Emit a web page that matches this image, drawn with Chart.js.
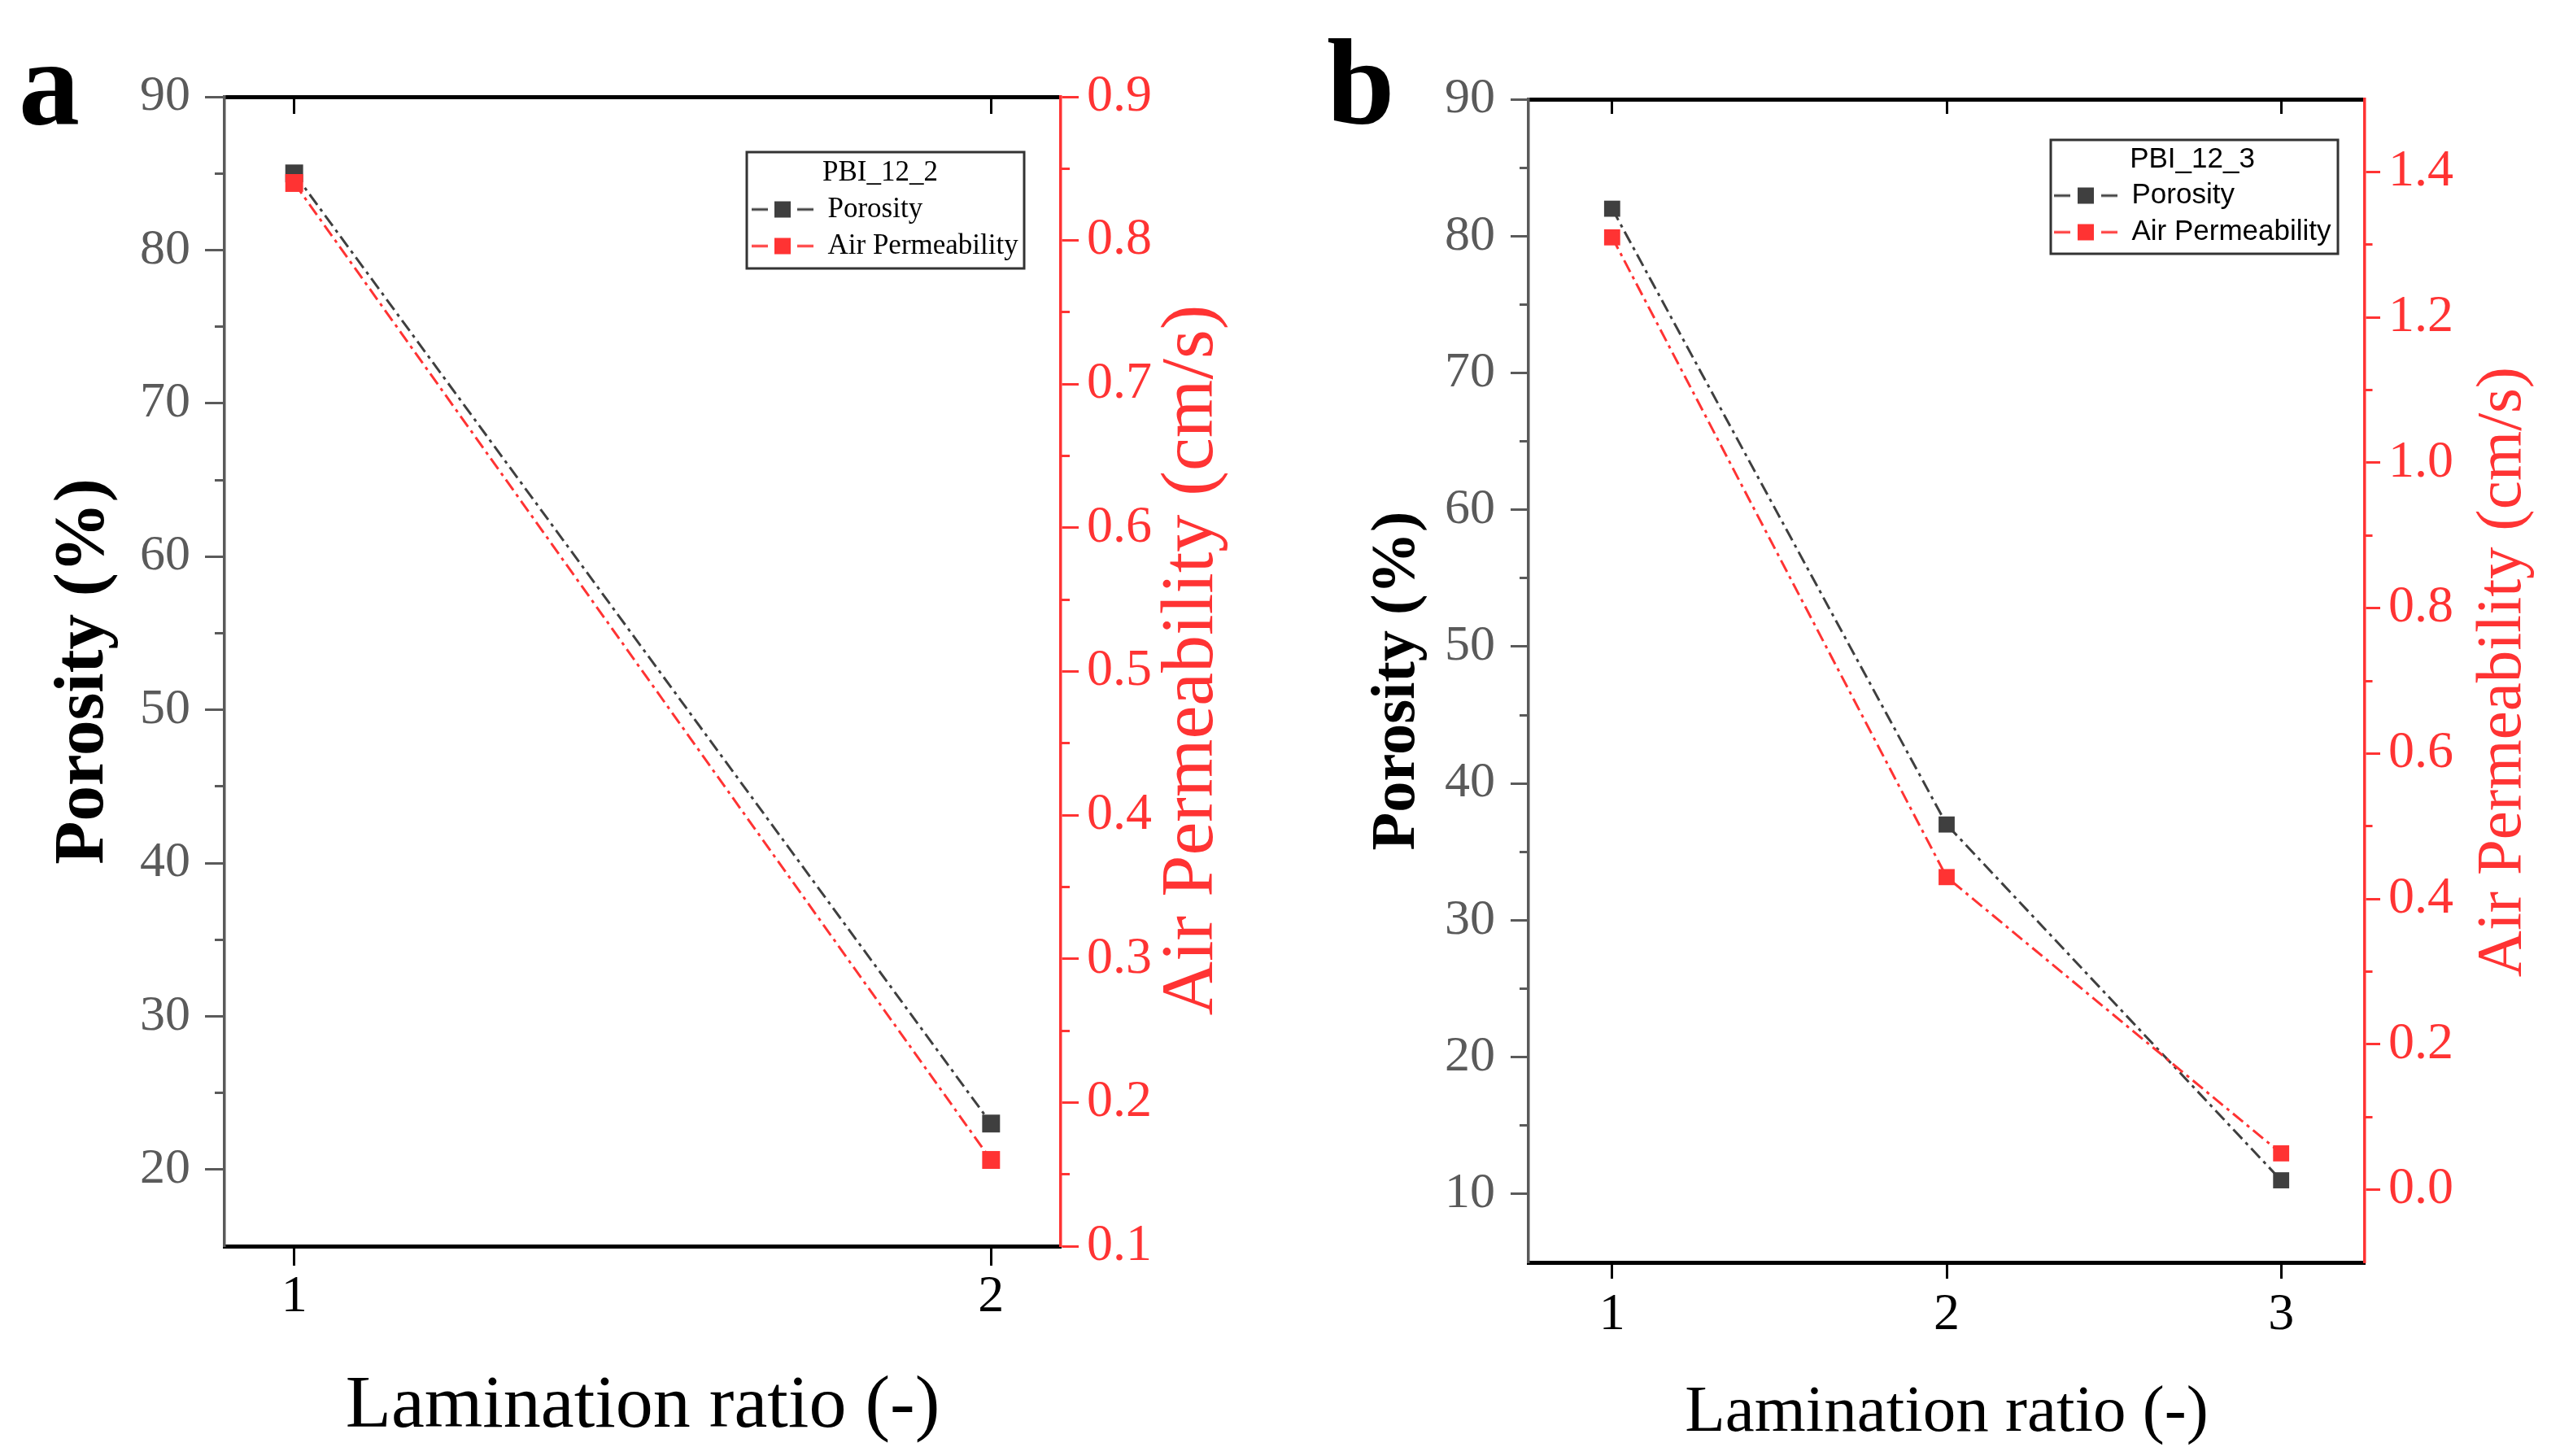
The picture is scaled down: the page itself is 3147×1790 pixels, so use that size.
<!DOCTYPE html>
<html>
<head>
<meta charset="utf-8">
<title>Porosity and air permeability vs lamination ratio</title>
<script src="https://cdn.jsdelivr.net/npm/chart.js@4.4.1/dist/chart.umd.min.js"></script>
<style>
  html, body { margin: 0; padding: 0; background: #fff; }
  #page { position: relative; width: 3147px; height: 1790px; overflow: hidden; background: #fff; }
  canvas { position: absolute; top: 0; }
  #chartA { left: 0; }
  #chartB { left: 1600px; }
  .tag { position: absolute; font-family: 'Liberation Serif', 'Times New Roman', serif; font-weight: bold;
         font-size: 150px; line-height: 1; color: #000; }
</style>
</head>
<body>
<div id="page">
  <canvas id="chartA" width="1600" height="1790"></canvas>
  <canvas id="chartB" width="1547" height="1790"></canvas>
  <div class="tag" style="left:23px; top:26px;">a</div>
  <div class="tag" style="left:1631px; top:26px;">b</div>
</div>
<script>
// panel a: PBI_12_2
const aRatio = [1, 2];
const aPorosity = [85, 23];
const aAirPerm = [0.84, 0.16];
const aRatioTicks = [1, 2];
const aPorosityTicks = [20, 30, 40, 50, 60, 70, 80, 90];
const aPorosityMinor = [25, 35, 45, 55, 65, 75, 85];
const aAirTicks = [0.1, 0.2, 0.3, 0.4, 0.5, 0.6, 0.7, 0.8, 0.9];
const aAirMinor = [0.15, 0.25, 0.35, 0.45, 0.55, 0.65, 0.75, 0.85];

// panel b: PBI_12_3
const bRatio = [1, 2, 3];
const bPorosity = [82, 37, 11];
const bAirPerm = [1.31, 0.43, 0.05];
const bRatioTicks = [1, 2, 3];
const bPorosityTicks = [10, 20, 30, 40, 50, 60, 70, 80, 90];
const bPorosityMinor = [15, 25, 35, 45, 55, 65, 75, 85];
const bAirTicks = [0.0, 0.2, 0.4, 0.6, 0.8, 1.0, 1.2, 1.4];
const bAirMinor = [0.1, 0.3, 0.5, 0.7, 0.9, 1.1, 1.3];

const SERIF = "'Liberation Serif', 'Times New Roman', serif";
const SANS = "'Liberation Sans', Arial, sans-serif";
const GRAY = '#3f3f3f';
const AXIS_GRAY = '#5a5a5a';
const RED = '#ff3333';

function fixedTicks(values) {
  return scale => { scale.ticks = values.map(v => ({ value: v })); };
}

function points(xs, ys) {
  return xs.map((x, i) => ({ x: x, y: ys[i] }));
}

// "-■-" sample used as the legend point style
function legendSymbol(color, w) {
  const c = document.createElement('canvas');
  c.width = w;
  c.height = 22;
  const g = c.getContext('2d');
  g.fillStyle = color;
  const dash = Math.round(w * 0.26);
  g.fillRect(0, 9.5, dash, 3);
  g.fillRect(w - dash, 9.5, dash, 3);
  g.fillRect(Math.round(w / 2 - 10), 1, 20, 20);
  return c;
}

// moves the legend into the plot, frames it, and draws the red axis title reading upwards
const panelExtras = {
  id: 'panelExtras',
  beforeDraw(chart, args, opts) {
    const lg = chart.legend;
    const p = opts.legendPos;
    lg.left = p.left;
    lg.top = p.top;
    lg.width = p.width;
    lg.right = p.left + p.width + 80;
    lg.bottom = p.top + 220;
    lg.height = lg.bottom - lg.top;
  },
  afterDraw(chart, args, opts) {
    const ctx = chart.ctx;
    const ca = chart.chartArea;
    const box = opts.frame;
    const t = opts.sideTitle;
    ctx.save();
    ctx.strokeStyle = box.color;
    ctx.lineWidth = box.lineWidth;
    ctx.strokeRect(box.left, box.top, box.width, box.height);
    ctx.translate(ca.right + t.dx, (ca.top + ca.bottom) / 2 + t.dy);
    ctx.rotate(-Math.PI / 2);
    ctx.font = t.size + 'px ' + SERIF;
    ctx.fillStyle = t.color;
    ctx.textAlign = 'center';
    ctx.textBaseline = 'middle';
    ctx.fillText(t.text, 0, 0);
    ctx.restore();
  }
};

function buildPanel(canvasId, p) {
  const datasets = [
    {
      label: 'Porosity',
      data: points(p.ratio, p.porosity),
      yAxisID: 'y',
      order: 1,
      borderColor: GRAY,
      backgroundColor: GRAY,
      borderWidth: 3,
      borderDash: [16, 6, 4, 6],
      tension: 0,
      pointStyle: 'rect',
      pointRadius: p.markerRadius,
      pointHoverRadius: p.markerRadius,
      pointBorderWidth: 0,
      pointBackgroundColor: GRAY
    },
    {
      label: 'Air Permeability',
      data: points(p.ratio, p.airPerm),
      yAxisID: 'y2',
      order: 0,
      borderColor: RED,
      backgroundColor: RED,
      borderWidth: 3,
      borderDash: [16, 6, 4, 6],
      tension: 0,
      pointStyle: 'rect',
      pointRadius: p.markerRadius,
      pointHoverRadius: p.markerRadius,
      pointBorderWidth: 0,
      pointBackgroundColor: RED
    }
  ];

  return new Chart(document.getElementById(canvasId), {
    type: 'line',
    data: { datasets: datasets },
    options: {
      responsive: false,
      animation: false,
      devicePixelRatio: 1,
      layout: { padding: p.padding },
      plugins: {
        tooltip: { enabled: false },
        legend: {
          display: true,
          position: 'chartArea',
          fullSize: false,
          align: 'start',
          labels: {
            usePointStyle: true,
            pointStyleWidth: p.symbolWidth,
            padding: p.legendRowPad,
            color: '#000',
            font: { family: p.legendFont, size: p.legendSize, lineHeight: 1 },
            generateLabels: chart => chart.data.datasets.map((ds, i) => ({
              text: ds.label,
              pointStyle: legendSymbol(ds.borderColor, p.symbolWidth),
              fillStyle: ds.backgroundColor,
              strokeStyle: ds.borderColor,
              fontColor: '#000',
              lineWidth: 0,
              hidden: false,
              datasetIndex: i
            }))
          },
          title: {
            display: true,
            text: p.legendTitle,
            color: '#000',
            font: { family: p.legendFont, size: p.legendSize, lineHeight: 1 },
            padding: p.legendTitlePad
          }
        },
        panelExtras: {
          legendPos: p.legendPos,
          frame: p.frame,
          sideTitle: p.sideTitle
        }
      },
      scales: {
        x: {
          type: 'linear',
          position: 'bottom',
          min: p.xMin,
          max: p.xMax,
          afterBuildTicks: fixedTicks(p.ratioTicks),
          afterFit: s => { s.height = p.xHeight; },
          ticks: {
            autoSkip: false,
            color: '#000',
            padding: p.xTickPad,
            font: { family: SERIF, size: 64, lineHeight: 1 },
            callback: v => String(v)
          },
          grid: { drawOnChartArea: false, tickLength: p.xTickLen, tickColor: '#000', tickWidth: 3 },
          border: { display: true, color: '#000', width: 5 },
          title: {
            display: true,
            text: 'Lamination ratio (-)',
            color: '#000',
            font: { family: SERIF, size: p.xTitleSize, lineHeight: 1 },
            padding: { top: 0, bottom: p.xTitlePad }
          }
        },
        xTop: {
          type: 'linear',
          position: 'top',
          min: p.xMin,
          max: p.xMax,
          afterBuildTicks: fixedTicks(p.ratioTicks),
          afterFit: s => { s.height = 0; },
          ticks: { display: false },
          grid: { drawOnChartArea: false, tickLength: -p.topTickLen, tickColor: '#000', tickWidth: 3 },
          border: { display: true, color: '#000', width: 5 }
        },
        y: {
          type: 'linear',
          position: 'left',
          weight: 1,
          min: p.yMin,
          max: p.yMax,
          afterBuildTicks: fixedTicks(p.porosityTicks),
          afterFit: s => { s.width = p.yWidth; },
          ticks: {
            autoSkip: false,
            color: AXIS_GRAY,
            padding: p.yTickPad,
            font: { family: SERIF, size: 62, lineHeight: 1 },
            callback: v => String(v)
          },
          grid: { drawOnChartArea: false, tickLength: p.yTickLen, tickColor: AXIS_GRAY, tickWidth: 3 },
          border: { display: true, color: AXIS_GRAY, width: 3.5 },
          title: {
            display: true,
            text: 'Porosity (%)',
            color: '#000',
            font: { family: SERIF, size: p.yTitleSize, weight: 'bold', lineHeight: 1 },
            padding: { top: p.yTitlePad, bottom: 0 }
          }
        },
        yMinor: {
          type: 'linear',
          position: 'left',
          weight: 0,
          min: p.yMin,
          max: p.yMax,
          afterBuildTicks: fixedTicks(p.porosityMinor),
          afterFit: s => { s.width = 0; },
          ticks: { display: false, autoSkip: false },
          grid: { drawOnChartArea: false, tickLength: p.yTickLen / 2, tickColor: AXIS_GRAY, tickWidth: 3 },
          border: { display: false }
        },
        y2: {
          type: 'linear',
          position: 'right',
          weight: 1,
          min: p.y2Min,
          max: p.y2Max,
          afterBuildTicks: fixedTicks(p.airTicks),
          afterFit: s => { s.width = 200; },
          ticks: {
            autoSkip: false,
            color: RED,
            padding: 10,
            font: { family: SERIF, size: 64, lineHeight: 1 },
            callback: v => v.toFixed(1)
          },
          grid: { drawOnChartArea: false, tickLength: p.y2TickLen, tickColor: RED, tickWidth: 3 },
          border: { display: true, color: RED, width: 3.5 }
        },
        y2Minor: {
          type: 'linear',
          position: 'right',
          weight: 0,
          min: p.y2Min,
          max: p.y2Max,
          afterBuildTicks: fixedTicks(p.airMinor),
          afterFit: s => { s.width = 0; },
          ticks: { display: false, autoSkip: false },
          grid: { drawOnChartArea: false, tickLength: p.y2TickLen / 2, tickColor: RED, tickWidth: 3 },
          border: { display: false }
        }
      }
    },
    plugins: [panelExtras]
  });
}

buildPanel('chartA', {
  ratio: aRatio, porosity: aPorosity, airPerm: aAirPerm,
  ratioTicks: aRatioTicks, porosityTicks: aPorosityTicks, porosityMinor: aPorosityMinor,
  airTicks: aAirTicks, airMinor: aAirMinor,
  xMin: 0.9, xMax: 2.1, yMin: 15, yMax: 90, y2Min: 0.1, y2Max: 0.9,
  padding: { left: 0, top: 119, right: 96, bottom: 0 },
  yWidth: 276, xHeight: 258,
  markerRadius: 15.5,
  xTickLen: 24, topTickLen: 21, yTickLen: 24, y2TickLen: 22,
  xTickPad: 7.5, yTickPad: 18,
  xTitleSize: 92, xTitlePad: 14,
  yTitleSize: 87, yTitlePad: 60.5,
  sideTitle: { text: 'Air Permeability (cm/s)', color: RED, size: 92, dx: 162, dy: -14 },
  legendTitle: 'PBI_12_2', legendFont: SERIF, legendSize: 35,
  legendTitlePad: { top: 8, bottom: 0 }, legendRowPad: 10, symbolWidth: 76,
  legendPos: { left: 914, top: 187, width: 336 },
  frame: { left: 918, top: 187, width: 341, height: 143, color: '#333', lineWidth: 3 }
});

buildPanel('chartB', {
  ratio: bRatio, porosity: bPorosity, airPerm: bAirPerm,
  ratioTicks: bRatioTicks, porosityTicks: bPorosityTicks, porosityMinor: bPorosityMinor,
  airTicks: bAirTicks, airMinor: bAirMinor,
  xMin: 0.75, xMax: 3.25, yMin: 5, yMax: 90, y2Min: -0.1, y2Max: 1.5,
  padding: { left: 0, top: 122, right: 40, bottom: 0 },
  yWidth: 279, xHeight: 238,
  markerRadius: 14,
  xTickLen: 20, topTickLen: 18, yTickLen: 22, y2TickLen: 19,
  xTickPad: 13.5, yTickPad: 19,
  xTitleSize: 81, xTitlePad: 11.5,
  yTitleSize: 76.5, yTitlePad: 80,
  sideTitle: { text: 'Air Permeability (cm/s)', color: RED, size: 79, dx: 170, dy: -11 },
  legendTitle: 'PBI_12_3', legendFont: SANS, legendSize: 35,
  legendTitlePad: { top: 7, bottom: -1 }, legendRowPad: 10, symbolWidth: 78,
  legendPos: { left: 915, top: 172, width: 360 },
  frame: { left: 921, top: 172, width: 353, height: 140, color: '#333', lineWidth: 3 }
});
</script>
</body>
</html>
